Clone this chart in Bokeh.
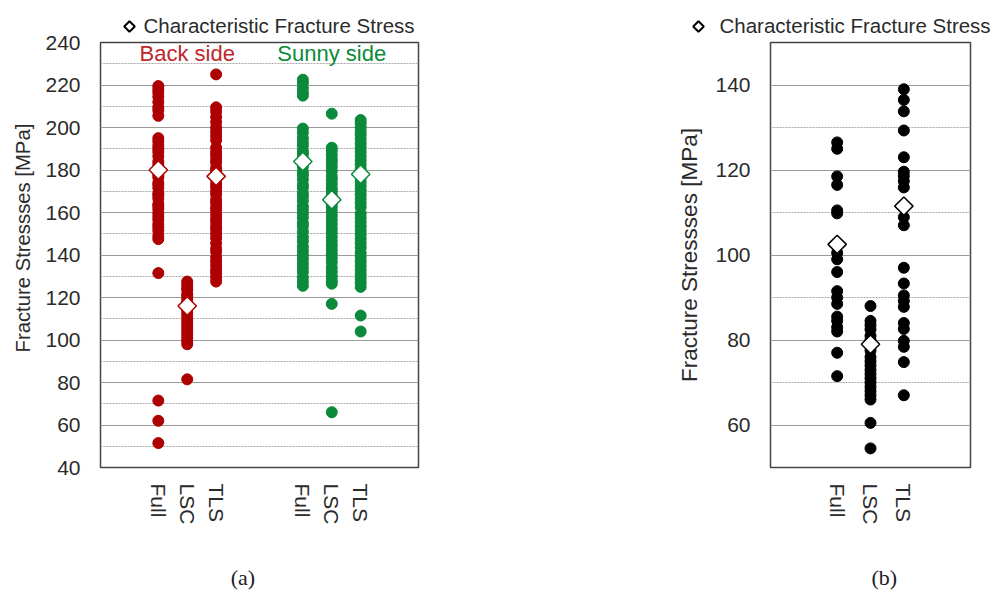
import math
from bokeh.plotting import figure
from bokeh.models import Range1d, FixedTicker, SingleIntervalTicker
from bokeh.layouts import row, column
from bokeh.embed import file_html
from bokeh.resources import INLINE
from bokeh.core.properties import value

# ---------------- data (a) ----------------
cats_a = ["Full", "LSC", "TLS", "Full", "LSC", "TLS"]
side_labels = ["Back side", "Sunny side"]

back_full = [219.5, 218.0, 216.5, 214.5, 212.0, 209.5, 208.0, 205.5,
             195.0, 193.5, 191.5, 190.0, 188.5, 186.5, 184.0, 182.5, 181.0,
             179.0, 177.5, 176.5, 174.0, 173.0, 171.5, 169.0, 168.0, 166.5,
             164.0, 163.0, 161.5, 159.5, 158.0, 156.5, 154.5, 153.0, 151.5,
             149.0, 147.5, 131.5, 71.5, 62.0, 51.5]
back_lsc = [127.5, 126.0, 124.5, 123.5, 121.5, 120.5, 119.0, 117.5, 116.0,
            114.5, 113.0, 111.5, 110.0, 108.5, 107.0, 105.5, 104.0, 102.5,
            101.0, 99.5, 98.0, 81.5]
back_tls = [225.0, 209.5, 207.5, 205.0, 202.5, 200.0, 198.0, 196.0, 194.0,
            190.5, 188.5, 187.0, 185.0, 183.5, 181.0, 179.5, 177.0, 175.5,
            173.5, 172.0, 170.0, 168.5, 166.0, 164.5, 162.5, 161.0, 159.0,
            157.0, 155.5, 153.5, 152.0, 150.0, 148.0, 145.5, 143.0, 141.5,
            139.0, 137.0, 135.0, 133.0, 131.5, 129.5, 127.5]
sunny_full = [222.5, 221.0, 218.5, 216.5, 215.0,
              199.5, 197.5, 195.0, 193.0, 191.5, 189.0, 187.5, 185.5, 183.0,
              181.5, 179.0, 177.5, 175.5, 173.0, 171.5, 169.0, 167.5, 165.5,
              163.0, 161.5, 159.5, 157.5, 155.0, 153.5, 151.0, 148.5, 146.5,
              144.0, 142.0, 140.0, 138.0, 136.0, 134.0, 132.0, 129.5, 127.5,
              125.5]
sunny_lsc = [206.5, 190.5, 189.0, 187.0, 185.0, 183.5, 181.5, 179.5, 177.0,
             175.5, 173.5, 171.5, 170.0, 168.0, 166.0, 164.0, 162.5, 160.5,
             158.5, 156.5, 154.5, 152.5, 150.5, 148.5, 146.5, 144.5, 142.5,
             140.5, 138.5, 136.5, 134.0, 132.0, 130.0, 128.0, 126.5, 117.0,
             66.0]
sunny_tls = [203.5, 202.0, 200.0, 198.0, 196.5, 194.5, 192.5, 190.5, 188.5,
             186.5, 184.5, 182.5, 180.5, 178.5, 176.5, 174.5, 172.5, 170.5,
             168.5, 166.5, 164.5, 162.5, 159.5, 157.5, 155.5, 153.5, 151.5,
             149.5, 147.5, 145.5, 143.5, 141.0, 139.0, 137.0, 135.0, 133.0,
             131.0, 129.0, 127.0, 125.0, 111.5, 104.0]
char_a = [180.0, 116.0, 177.0, 184.0, 166.0, 178.0]

# ---------------- data (b) ----------------
cats_b = ["Full", "LSC", "TLS"]
b_full = [126.5, 125.0, 118.5, 116.5, 110.5, 109.8, 100.5, 99.0, 96.0, 91.5,
          90.0, 88.5, 85.5, 84.5, 83.0, 82.0, 77.0, 71.5]
b_lsc = [88.0, 84.5, 83.5, 82.5, 81.0, 80.0, 78.5, 77.5, 76.0, 75.0, 74.0,
         73.0, 72.0, 71.0, 70.0, 69.0, 68.0, 67.0, 66.0, 60.5, 54.5]
b_tls = [139.0, 136.5, 133.8, 129.3, 123.0, 119.6, 118.6, 117.4, 115.9,
         108.9, 107.0, 97.0, 93.3, 90.5, 89.2, 87.8, 84.0, 82.6, 79.8, 78.4,
         74.8, 67.0]
char_b = [102.5, 79.0, 111.5]

legend_label = "Characteristic Fracture Stress"
y_label = "Fracture Stressses [MPa]"
NB = "\u00a0"

RED = "#ad0000"
RED_TEXT = "#c0262b"
GREEN = "#0b8a3b"
BLACK = "#000000"
FONT = "Liberation Sans"
TXT = "#2b2b2b"

LEG_H = 34
MAIN_H = 559


def style(p, ticks, labels, panel_label, ylab, ylab_size, ylab_standoff):
    p.outline_line_color = "#444444"
    p.outline_line_width = 1.5
    p.xgrid.visible = False
    tk = SingleIntervalTicker(interval=20, num_minor_ticks=2)
    p.yaxis.ticker = tk
    p.ygrid.ticker = tk
    p.ygrid.grid_line_color = "#9a9a9a"
    p.ygrid.grid_line_width = 1
    p.ygrid.minor_grid_line_color = "#a8a8a8"
    p.ygrid.minor_grid_line_dash = "2 1"
    p.ygrid.minor_grid_line_width = 1
    for ax in (p.xaxis, p.yaxis):
        ax.axis_line_color = None
        ax.major_tick_line_color = None
        ax.minor_tick_line_color = None
        ax.major_label_text_font = FONT
        ax.major_label_text_font_size = "21px"
        ax.major_label_text_color = TXT
    p.yaxis.major_label_standoff = 14
    p.yaxis.axis_label = ylab
    p.yaxis.axis_label_text_font = FONT
    p.yaxis.axis_label_text_font_size = ylab_size
    p.yaxis.axis_label_text_font_style = "normal"
    p.yaxis.axis_label_text_color = TXT
    p.yaxis.axis_label_standoff = ylab_standoff
    p.xaxis.ticker = FixedTicker(ticks=ticks)
    p.xaxis.major_label_overrides = {t: l for t, l in zip(ticks, labels)}
    p.xaxis.major_label_orientation = "vertical"
    p.xaxis.major_label_standoff = 10
    p.xaxis.axis_label = panel_label
    p.xaxis.axis_label_text_font = "Liberation Serif"
    p.xaxis.axis_label_text_font_size = "22px"
    p.xaxis.axis_label_text_font_style = "normal"
    p.xaxis.axis_label_text_color = "#1c1c2a"
    p.xaxis.axis_label_standoff = 38


def legend_fig(width, marker_x, text_x):
    # a strip above the plot that carries the key (pixel coordinates)
    lf = figure(width=width, height=LEG_H, x_range=Range1d(0, width),
                y_range=Range1d(0, LEG_H), output_backend="svg",
                toolbar_location=None, x_axis_location=None,
                y_axis_location=None, min_border=0, frame_align=False)
    lf.outline_line_color = None
    lf.grid.visible = False
    lf.scatter(x=[marker_x], y=[LEG_H - 26], marker="square",
               angle=math.pi / 4, size=7.5, fill_color="white",
               line_color="black", line_width=2)
    lf.text(x=[text_x], y=[LEG_H - 24.5], text=[legend_label],
            text_font=value(FONT), text_font_size="20.5px", text_color=TXT,
            text_align="left", text_baseline="middle")
    return lf


# ---------------- figure (a) ----------------
p1 = figure(width=440, height=MAIN_H, x_range=Range1d(0, 11),
            y_range=Range1d(40, 240), output_backend="svg",
            toolbar_location=None, min_border_left=100, min_border_right=22,
            min_border_top=8, min_border_bottom=126, frame_align=False)
pos_a = [2, 3, 4, 7, 8, 9]
style(p1, pos_a, cats_a, "(a)" + NB * 6, NB * 6 + y_label, "20.3px", 8)

series_a = [back_full, back_lsc, back_tls, sunny_full, sunny_lsc, sunny_tls]
colors_a = [RED, RED, RED, GREEN, GREEN, GREEN]
for xp, vals, c in zip(pos_a, series_a, colors_a):
    p1.scatter(x=[xp] * len(vals), y=vals, size=11, fill_color=c,
               line_color=c, line_width=1)
for xp, v, c in zip(pos_a, char_a, colors_a):
    p1.scatter(x=[xp], y=[v], marker="square", angle=math.pi / 4, size=13,
               fill_color="white", line_color=c, line_width=1.5)

p1.text(x=[3, 8], y=[235, 235], text=side_labels,
        text_color=[RED_TEXT, GREEN], text_font=value(FONT),
        text_font_size="22px", text_align="center", text_baseline="middle")

# ---------------- figure (b) ----------------
p2 = figure(width=552, height=MAIN_H, x_range=Range1d(0, 6),
            y_range=Range1d(50, 150), output_backend="svg",
            toolbar_location=None, min_border_left=330, min_border_right=22,
            min_border_top=8, min_border_bottom=126, frame_align=False)
pos_b = [2, 3, 4]
style(p2, pos_b, cats_b, NB * 5 + "(b)", y_label, "22.5px", 10)
for xp, vals in zip(pos_b, [b_full, b_lsc, b_tls]):
    p2.scatter(x=[xp] * len(vals), y=vals, size=11, fill_color=BLACK,
               line_color=BLACK)
for xp, v in zip(pos_b, char_b):
    p2.scatter(x=[xp], y=[v], marker="square", angle=math.pi / 4, size=13,
               fill_color="white", line_color=BLACK, line_width=1.5)

layout = row(column(legend_fig(440, 129, 143), p1),
             column(legend_fig(552, 258, 279), p2))
open("out.html", "w").write(file_html(layout, INLINE))
